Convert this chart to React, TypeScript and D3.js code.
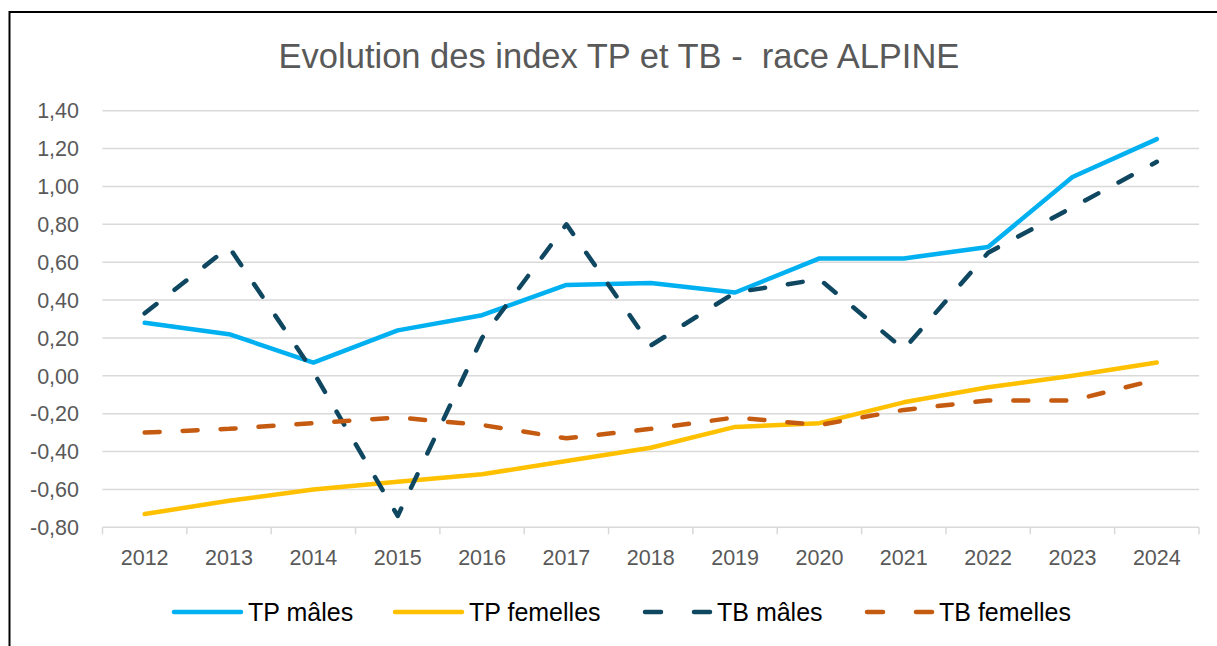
import React from "react";
import * as d3 from "d3";

const years = ["2012","2013","2014","2015","2016","2017","2018","2019","2020","2021","2022","2023","2024"];
const tpMales = [0.28, 0.22, 0.07, 0.24, 0.32, 0.48, 0.49, 0.44, 0.62, 0.62, 0.68, 1.05, 1.25];
const tpFemelles = [-0.73, -0.66, -0.60, -0.56, -0.52, -0.45, -0.38, -0.27, -0.25, -0.14, -0.06, 0.00, 0.07];
const tbMales = [0.33, 0.68, 0.02, -0.74, 0.20, 0.80, 0.16, 0.44, 0.51, 0.14, 0.65, 0.89, 1.13];
const tbFemelles = [-0.30, -0.28, -0.25, -0.22, -0.26, -0.33, -0.28, -0.22, -0.26, -0.18, -0.13, -0.13, -0.02];
const yTicks = [1.4, 1.2, 1.0, 0.8, 0.6, 0.4, 0.2, 0.0, -0.2, -0.4, -0.6, -0.8];
const seriesNames = ["TP mâles", "TP femelles", "TB mâles", "TB femelles"];
const titleText = "Evolution des index TP et TB -  race ALPINE";

const W = 1217, H = 646;
const left = 102.5, right = 1199, top = 110.7, bottom = 527.3;

export default function App() {
  const x = d3.scaleBand<string>().domain(years).range([left, right]);
  const y = d3.scaleLinear().domain([-0.8, 1.4]).range([bottom, top]);
  const cx = (i: number) => (x(years[i]) as number) + x.bandwidth() / 2;
  const line = d3.line<number>().x((_, i) => cx(i)).y((d) => y(d));
  const fmt = (v: number) => v.toFixed(2).replace(".", ",").replace("-0,00", "0,00");

  const series = [
    { name: seriesNames[0], data: tpMales, color: "#00B0F0", dash: null },
    { name: seriesNames[1], data: tpFemelles, color: "#FFC000", dash: null },
    { name: seriesNames[2], data: tbMales, color: "#0F4761", dash: "15 23" },
    { name: seriesNames[3], data: tbFemelles, color: "#C55A11", dash: "15 23" },
  ];
  const legendX = [172, 393, 643, 865];
  const tickX = d3.range(years.length + 1).map((i) => left + i * x.step());

  return (
    <div style={{ position: "absolute", left: 0, top: 0 }}>
      <svg width={W} height={H} style={{ display: "block", background: "#fff" }}>
        <rect x={9.5} y={12} width={W} height={H} fill="#fff" stroke="#000" strokeWidth={2} />
        <text x={619} y={68} textAnchor="middle" fontFamily="Liberation Sans, Arial, sans-serif" fontSize={34.5} fill="#595959" style={{ whiteSpace: "pre" }}>{titleText}</text>
        {yTicks.map((t) => (
          <g key={t}>
            <line x1={left} x2={right} y1={y(t)} y2={y(t)} stroke="#D9D9D9" strokeWidth={1.5} />
            <text x={79} y={y(t)} dy="0.36em" textAnchor="end" fontFamily="Liberation Sans, Arial, sans-serif" fontSize={21.5} fill="#595959">{fmt(t)}</text>
          </g>
        ))}
        {tickX.map((tx, i) => (
          <line key={i} x1={tx} x2={tx} y1={bottom} y2={bottom + 7} stroke="#D9D9D9" strokeWidth={1.5} />
        ))}
        {years.map((yr, i) => (
          <text key={yr} x={cx(i)} y={557} dy="0.36em" textAnchor="middle" fontFamily="Liberation Sans, Arial, sans-serif" fontSize={21.5} fill="#595959">{yr}</text>
        ))}
        {series.map((s) => (
          <path key={s.name} d={line(s.data) as string} fill="none" stroke={s.color} strokeWidth={4.5}
            strokeLinecap="round" strokeLinejoin="round" strokeDasharray={s.dash ?? undefined} />
        ))}
        {series.map((s, i) => (
          <g key={s.name}>
            {s.dash ? (
              <>
                <line x1={legendX[i] + 2} x2={legendX[i] + 18} y1={612} y2={612} stroke={s.color} strokeWidth={4.5} strokeLinecap="round" />
                <line x1={legendX[i] + 51} x2={legendX[i] + 67} y1={612} y2={612} stroke={s.color} strokeWidth={4.5} strokeLinecap="round" />
              </>
            ) : (
              <line x1={legendX[i] + 2} x2={legendX[i] + 69} y1={612} y2={612} stroke={s.color} strokeWidth={4.5} strokeLinecap="round" />
            )}
            <text x={legendX[i] + (s.dash ? 74 : 76)} y={612} dy="0.36em" fontFamily="Liberation Sans, Arial, sans-serif" fontSize={25} fill="#000">{s.name}</text>
          </g>
        ))}
      </svg>
    </div>
  );
}
